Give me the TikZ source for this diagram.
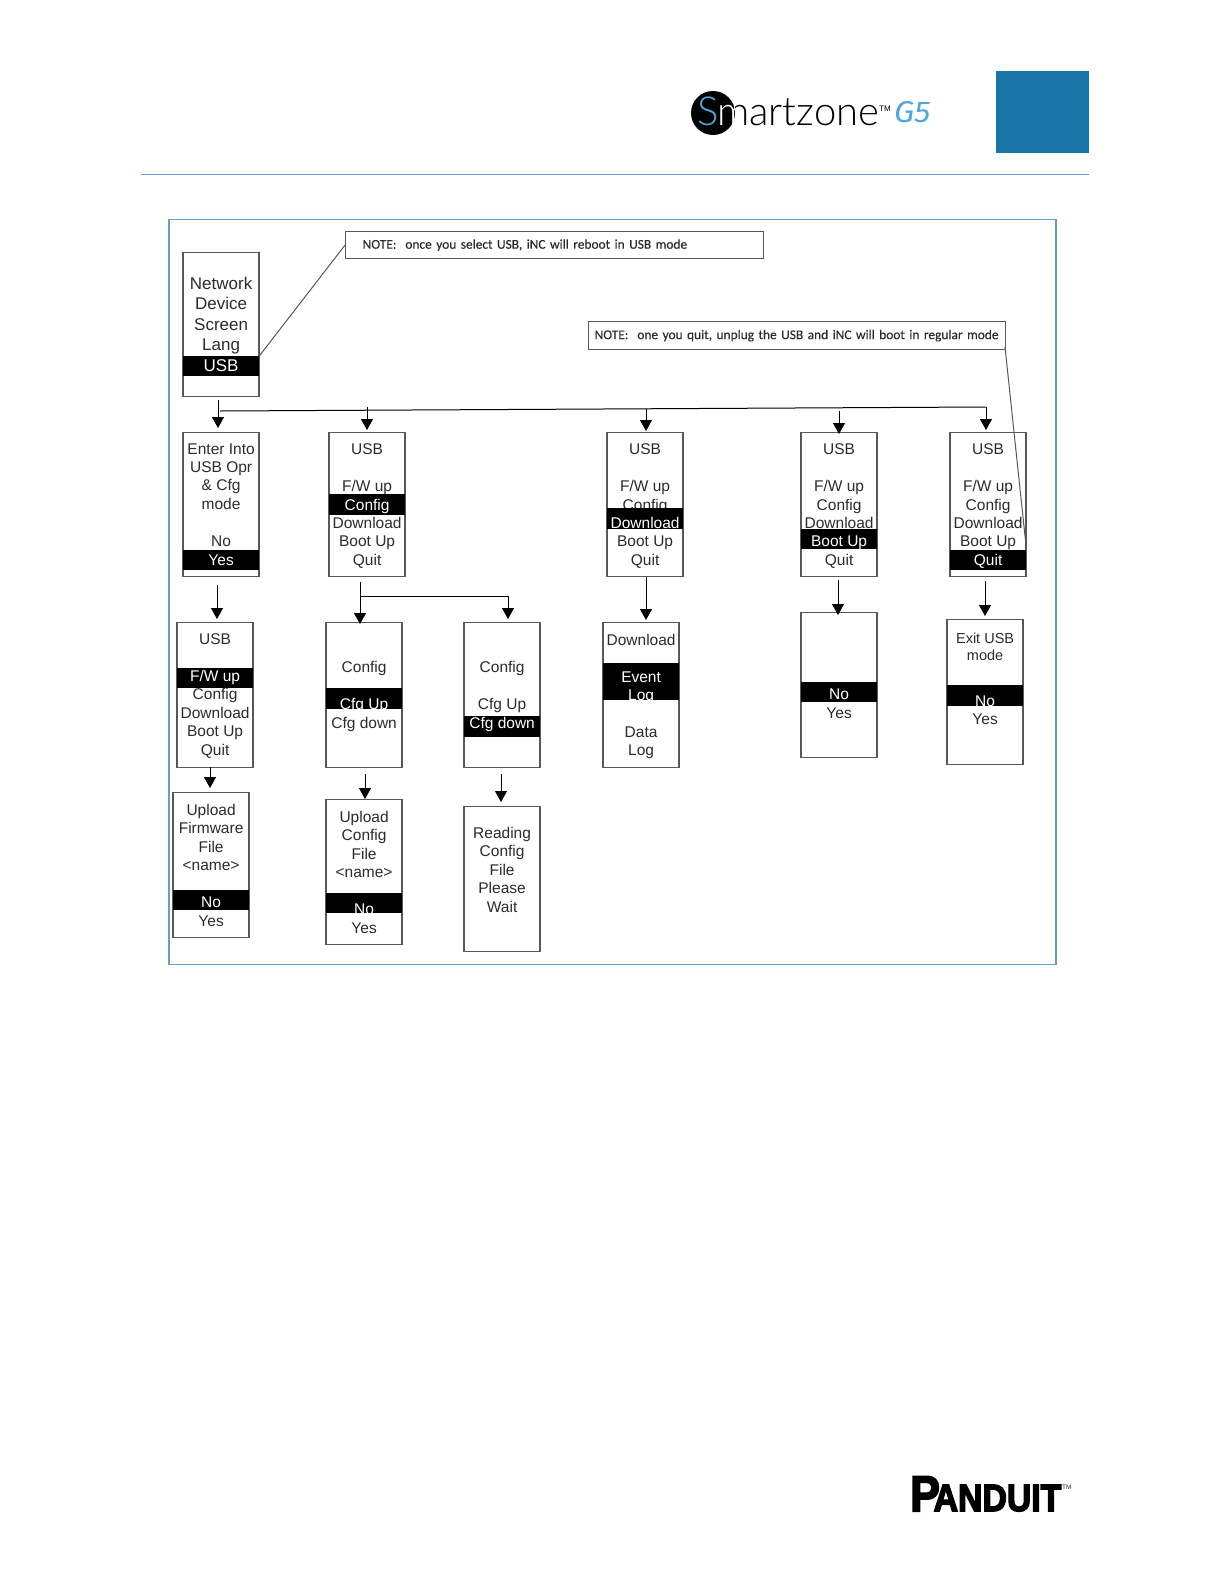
\documentclass[tikz,border=0pt]{standalone}
\usepackage{fontspec}
\usetikzlibrary{arrows.meta}
\setmainfont{Liberation Sans}
\newfontfamily\notefont{Carlito}[WordSpace=0.8,FakeBold=0.25]
\newfontfamily\logofont{Lato}[UprightFont=* Light]
\newfontfamily\gfont{Fira Sans}[UprightFont=*]
\newfontfamily\panfont{Liberation Sans}[UprightFont=* Bold,FakeBold=4]
\definecolor{pagelink}{HTML}{6A9BC6}
\definecolor{headblue}{HTML}{1A75A9}
\definecolor{logoblue}{HTML}{4FA8DC}
\definecolor{scrgrey}{HTML}{585858}
\definecolor{txtgrey}{HTML}{2C2C2C}
\newcounter{tn}
\tikzset{
  x=1pt,y=-1pt,
  scrbox/.style={draw=scrgrey,line width=1.25pt,fill=white,rectangle,inner sep=0pt,minimum width=76pt},
  bandbox/.style={fill=black,rectangle,inner sep=0pt,minimum width=76.5pt},
  linetext/.style={anchor=base,inner sep=0pt,font=\fontsize{15.5}{18}\selectfont,text=txtgrey},
  bigtext/.style={linetext,font=\fontsize{17}{20}\selectfont},
  smalltext/.style={linetext,font=\fontsize{14.5}{17}\selectfont},
  selwhite/.style={text=white},
  notebox/.style={draw=scrgrey,line width=1.25pt,fill=white,rectangle,inner sep=0pt,anchor=north west,
    font=\notefont\fontsize{13.4}{15}\selectfont,text=txtgrey},
  conn/.style={black,line width=1pt},
  arr/.style={conn,-{Triangle[width=12pt,length=11pt]}},
  callout/.style={draw=scrgrey,line width=1pt},
}
% name, left, top, right, bottom
\newcommand\scr[5]{\node[scrbox,minimum height={#5-#3-0.5}] (#1) at ({(#2+#4)/2+0.5},{(#3+#5)/2}) {};}
% name, centre x, top, bottom
\newcommand\bnd[4]{\node[bandbox,minimum height={#4-#3}] (#1) at ({#2+0.5},{(#3+#4)/2}) {};}
\newcommand\tl[4][linetext]{\stepcounter{tn}\node[#1] (t\arabic{tn}) at ({#2+0.6},#3) {#4};}
\newcommand\wl[3]{\stepcounter{tn}\node[linetext,selwhite] (t\arabic{tn}) at ({#1+0.6},#2) {#3};}
\begin{document}
\begin{tikzpicture}
\useasboundingbox (0,0) rectangle (1224,1584);
\fill[white] (0,0) rectangle (1224,1584);

% header
\node[circle,fill=black,minimum size=44pt,inner sep=0pt] (logodisc) at (713,113) {};
\node[anchor=base west,inner sep=0pt,font=\logofont\fontsize{40}{40}\selectfont,text=logoblue] (logoS) at (697,126) {S};
\node[anchor=base west,inner sep=0pt,font=\logofont\fontsize{40}{40}\selectfont,text=white] (logoM) at (717,126) {m};
\begin{scope}
\clip (735,80) rectangle (900,140);
\node[anchor=base west,inner sep=0pt,font=\logofont\fontsize{40}{40}\selectfont,text=black] (logoT) at (717,126) {martzone};
\end{scope}
\node[anchor=base west,inner sep=0pt,font=\fontsize{8}{8}\selectfont,text=black] (logoTM) at (879,112) {TM};
\node[anchor=base west,inner sep=0pt,font=\gfont\itshape\fontsize{30}{30}\selectfont,text=logoblue,xscale=1.08] (logoG) at (894,123) {G5};
\node[fill=headblue,inner sep=0pt,minimum width=93pt,minimum height=82pt] (headbox) at (1042.5,112) {};
\coordinate (ruleL) at (141,174);
\coordinate (ruleR) at (1089,174);
\draw[pagelink,line width=1pt] (ruleL) -- (ruleR);

% frame
\node[draw=pagelink,line width=1.25pt,fill=white,inner sep=0pt,minimum width=887pt,minimum height=745pt] (frame) at (612.5,592) {};

% notes
\node[notebox,minimum width=418pt,minimum height=27pt,text width=416pt,align=left] (noteA) at (345,231) {\hspace*{16pt}\raisebox{-3pt}{NOTE:\ \ once you select USB, iNC will reboot in USB mode}};
\node[notebox,minimum width=417pt,minimum height=28pt,text width=415pt,align=left] (noteB) at (588,321) {\hspace*{5pt}\raisebox{1.5pt}{NOTE:\ \ one you quit, unplug the USB and iNC will boot in regular mode}};

% A
\scr{A}{182}{252}{259}{397}
\tl[bigtext]{220.5}{289}{Network}\tl[bigtext]{220.5}{309}{Device}\tl[bigtext]{220.5}{330}{Screen}\tl[bigtext]{220.5}{350}{Lang}
\bnd{Ab}{220.5}{356}{376}
\tl[bigtext,selwhite]{220.5}{371}{USB}

% B
\scr{B}{182}{432}{259}{577}
\tl{220.5}{454}{Enter Into}\tl{220.5}{472.4}{USB Opr}\tl{220.5}{490.8}{\& Cfg}\tl{220.5}{509.2}{mode}\tl{220.5}{546.4}{No}
\bnd{Bb}{220.5}{550}{570}
\wl{220.5}{565}{Yes}

% C
\scr{C}{328}{432}{405}{577}
\tl{366.5}{454}{USB}\tl{366.5}{491}{F/W up}\tl{366.5}{528}{Download}\tl{366.5}{546.4}{Boot Up}\tl{366.5}{565}{Quit}
\bnd{Cb}{366.5}{494}{515}
\wl{366.5}{510}{Config}

% D
\scr{D}{606}{432}{683}{577}
\tl{644.5}{454}{USB}\tl{644.5}{491}{F/W up}\tl{644.5}{510}{Config}\tl{644.5}{546.4}{Boot Up}\tl{644.5}{565}{Quit}
\bnd{Db}{644.5}{508}{529}
\wl{644.5}{528}{Download}

% E
\scr{E}{800}{432}{877}{577}
\tl{838.5}{454}{USB}\tl{838.5}{491}{F/W up}\tl{838.5}{510}{Config}\tl{838.5}{528}{Download}\tl{838.5}{565}{Quit}
\bnd{Eb}{838.5}{529}{549}
\wl{838.5}{546.4}{Boot Up}

% F
\scr{F}{949}{432}{1026}{577}
\tl{987.5}{454}{USB}\tl{987.5}{491}{F/W up}\tl{987.5}{510}{Config}\tl{987.5}{528}{Download}\tl{987.5}{546.4}{Boot Up}
\bnd{Fb}{987.5}{550}{570}
\wl{987.5}{565}{Quit}

% G
\scr{G}{176}{622}{253}{768}
\tl{214.5}{644}{USB}\tl{214.5}{699.5}{Config}\tl{214.5}{718}{Download}\tl{214.5}{736}{Boot Up}\tl{214.5}{755}{Quit}
\bnd{Gb}{214.5}{668}{688}
\wl{214.5}{681}{F/W up}

% H
\scr{H}{325}{622}{402}{768}
\tl{363.5}{672}{Config}\tl{363.5}{728}{Cfg down}
\bnd{Hb}{363.5}{688}{709}
\wl{363.5}{709}{Cfg Up}

% I
\scr{I}{463}{622}{540}{768}
\tl{501.5}{672}{Config}\tl{501.5}{709}{Cfg Up}
\bnd{Ib}{501.5}{716}{737}
\wl{501.5}{728}{Cfg down}

% J
\scr{J}{602}{622}{679}{768}
\tl{640.5}{645}{Download}\tl{640.5}{737}{Data}\tl{640.5}{755}{Log}
\bnd{Jb}{640.5}{663}{700}
\wl{640.5}{682}{Event}\wl{640.5}{700}{Log}

% K
\scr{K}{800}{612}{877}{758}
\tl{838.5}{718}{Yes}
\bnd{Kb}{838.5}{682}{702}
\wl{838.5}{699}{No}

% L
\scr{L}{946}{619}{1023}{765}
\tl[smalltext]{984.5}{643}{Exit USB}\tl[smalltext]{984.5}{660}{mode}\tl{984.5}{724}{Yes}
\bnd{Lb}{984.5}{685}{706}
\wl{984.5}{706}{No}

% M
\scr{M}{172}{792}{249}{938}
\tl{210.5}{815}{Upload}\tl{210.5}{833.5}{Firmware}\tl{210.5}{852}{File}\tl{210.5}{870}{<name>}\tl{210.5}{926}{Yes}
\bnd{Mb}{210.5}{890}{910}
\wl{210.5}{907}{No}

% N
\scr{N}{325}{799}{402}{945}
\tl{363.5}{822}{Upload}\tl{363.5}{840}{Config}\tl{363.5}{859}{File}\tl{363.5}{877}{<name>}\tl{363.5}{933}{Yes}
\bnd{Nb}{363.5}{893}{913}
\wl{363.5}{914}{No}

% O
\scr{O}{463}{806}{540}{952}
\tl{501.5}{838}{Reading}\tl{501.5}{856.5}{Config}\tl{501.5}{875}{File}\tl{501.5}{893}{Please}\tl{501.5}{912}{Wait}

% callouts
\draw[callout] (Ab.north east) -- (noteA.west);
\coordinate (noteBout) at (1005,347);
\draw[callout] (noteBout) -- (Fb.north east);

% free ends of connectors
\coordinate (aO) at (218,400);  \coordinate (bI) at (218,428);
\coordinate (busL) at (220,411); \coordinate (busR) at (986,407);
\coordinate (cO) at (367,407);  \coordinate (cI) at (367,430);
\coordinate (dO) at (646,409);  \coordinate (dI) at (646,431);
\coordinate (eO) at (839,411);  \coordinate (eI) at (839,434);
\coordinate (fI) at (986,430);
\coordinate (gO) at (217,585);  \coordinate (gI) at (217,619);
\coordinate (hO) at (360,582);  \coordinate (hI) at (360,624);
\coordinate (hJ) at (360,596);  \coordinate (iI) at (508,619);
\coordinate (jO) at (646,577);  \coordinate (jI) at (646,620);
\coordinate (kO) at (838,580);  \coordinate (kI) at (838,615);
\coordinate (lO) at (985,581);  \coordinate (lI) at (985,616);
\coordinate (mO) at (210,767);  \coordinate (mI) at (210,788);
\coordinate (nO) at (365,774);  \coordinate (nI) at (365,799);
\coordinate (oO) at (501,774);  \coordinate (oI) at (501,802);

\draw[arr] (aO) -- (bI);
\draw[conn] (busL) -- (busR);
\draw[arr] (busR) -- (fI);
\draw[arr] (cO) -- (cI);
\draw[arr] (dO) -- (dI);
\draw[arr] (eO) -- (eI);
\draw[arr] (gO) -- (gI);
\draw[arr] (hO) -- (hI);
\draw[arr] (hJ) -| (iI);
\draw[arr] (jO) -- (jI);
\draw[arr] (kO) -- (kI);
\draw[arr] (lO) -- (lI);
\draw[arr] (mO) -- (mI);
\draw[arr] (nO) -- (nI);
\draw[arr] (oO) -- (oI);

% footer logo
\node[anchor=base west,inner sep=0pt,font=\panfont,text=black] (panlogo) at (910,1511) {\scalebox{0.89}[1]{\fontsize{50}{50}\selectfont P\kern-7pt\fontsize{38}{38}\selectfont ANDUIT}};
\node[anchor=base west,inner sep=0pt,font=\fontsize{6.5}{7}\selectfont,text=txtgrey] (panTM) at (1062,1489) {TM};
\end{tikzpicture}
\end{document}
